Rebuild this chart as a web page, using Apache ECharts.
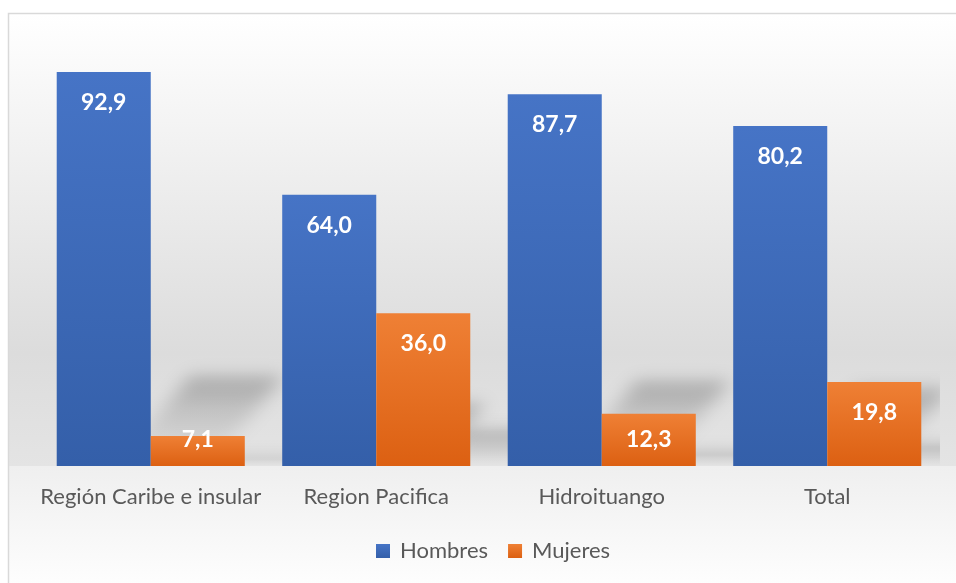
<!DOCTYPE html>
<html>
<head>
<meta charset="utf-8">
<script src="https://cdn.jsdelivr.net/npm/echarts@6/dist/echarts.min.js"></script>
<style>
  html, body { margin: 0; padding: 0; background: #fff; }
  #chart { width: 956px; height: 583px; }
</style>
</head>
<body>
<div id="chart"></div>
<script>
const categories = ['Región Caribe e insular', 'Region Pacifica', 'Hidroituango', 'Total'];
const hombres = [92.9, 64.0, 87.7, 80.2];
const mujeres = [7.1, 36.0, 12.3, 19.8];
const seriesNames = ['Hombres', 'Mujeres'];

let chart = echarts.init(document.getElementById('chart'));

const blue = new echarts.graphic.LinearGradient(0, 0, 0, 1, [
  { offset: 0, color: '#4674c6' },
  { offset: 1, color: '#345fa9' }
]);
const orange = new echarts.graphic.LinearGradient(0, 0, 0, 1, [
  { offset: 0, color: '#ef8035' },
  { offset: 1, color: '#dc6012' }
]);

const GAP = 0.166;

// label: inside the end, but pushed to the bottom on short bars
function labelled(values) {
  return values.map(v => ({
    value: v,
    label: v < 15 ? { position: 'insideBottom', distance: 15 } : { position: 'insideTop', distance: 19 }
  }));
}

// perspective shadows behind the bars
let shadowData = [];
[hombres, mujeres].forEach((arr, s) => {
  arr.forEach((v, i) => shadowData.push([i, v, s]));
});

function renderShadow(params, api) {
  const i = api.value(0), v = api.value(1), s = api.value(2);
  const base = api.coord([i, 0]);
  const top = api.coord([i, v]);
  const catW = api.size([1, 0])[0];
  const barW = catW * (1 - GAP) / 2;
  const x0 = base[0] - barW + s * barW + 0.62 * barW;
  const h = base[1] - top[1];
  const sl = 0.225 * h;
  const k = 0.85 * sl;
  const off = 3000;
  return {
    type: 'polygon',
    shape: {
      points: [
        [x0 - off, base[1]],
        [x0 + barW - off, base[1]],
        [x0 + barW + k - off, base[1] - sl],
        [x0 + k - off, base[1] - sl]
      ]
    },
    style: {
      fill: new echarts.graphic.LinearGradient(0, 0, 0, 1, [
        { offset: 0, color: 'rgba(0,0,0,1)' },
        { offset: 0.35, color: 'rgba(0,0,0,0.55)' },
        { offset: 1, color: 'rgba(0,0,0,0)' }
      ]),
      shadowColor: 'rgba(0,0,0,0.25)',
      shadowBlur: 18,
      shadowOffsetX: off
    }
  };
}

let option = {
  animation: false,
  graphic: [
    {
      type: 'rect', z: -10, silent: true,
      shape: { x: 9, y: 14, width: 960, height: 452 },
      style: {
        fill: new echarts.graphic.LinearGradient(0, 0, 0, 1, [
          { offset: 0, color: '#ffffff' },
          { offset: 0.75, color: '#dcdcdc' },
          { offset: 1, color: '#e4e4e4' }
        ])
      }
    },
    {
      type: 'rect', z: -10, silent: true,
      shape: { x: 9, y: 466, width: 960, height: 130 },
      style: {
        fill: new echarts.graphic.LinearGradient(0, 0, 0, 1, [
          { offset: 0, color: '#efefef' },
          { offset: 1, color: '#ffffff' }
        ])
      }
    },
    {
      type: 'rect', z: -9, silent: true,
      shape: { x: 8.5, y: 13.5, width: 970, height: 620 },
      style: { fill: 'none', stroke: '#d9d9d9', lineWidth: 1.5 }
    }
  ],
  grid: { left: 38, right: 16, top: 42, bottom: 117 },
  legend: {
    data: seriesNames,
    top: 535,
    left: 371,
    itemWidth: 14,
    itemHeight: 14,
    itemGap: 20,
    icon: 'rect',
    textStyle: { fontFamily: 'Lato', fontSize: 22, color: '#595959', padding: [0, 0, 0, 5] }
  },
  xAxis: {
    type: 'category',
    data: categories,
    axisLine: { show: false },
    axisTick: { show: false },
    axisLabel: { interval: 0, fontFamily: 'Lato', fontSize: 22, color: '#595959', margin: 20 }
  },
  yAxis: {
    type: 'value',
    min: 0,
    max: 100,
    show: false,
    splitLine: { show: false }
  },
  series: [
    {
      type: 'custom',
      name: 'shadow',
      silent: true,
      clip: true,
      z: 1,
      renderItem: renderShadow,
      data: shadowData
    },
    {
      name: seriesNames[0],
      type: 'bar',
      z: 2,
      barGap: '0%',
      barCategoryGap: (GAP * 100) + '%',
      itemStyle: { color: blue },
      label: {
        show: true,
        color: '#fff',
        fontFamily: 'Lato',
        fontWeight: 'bold',
        fontSize: 23,
        formatter: p => p.value.toFixed(1).replace('.', ',')
      },
      data: labelled(hombres)
    },
    {
      name: seriesNames[1],
      type: 'bar',
      z: 2,
      barGap: '0%',
      barCategoryGap: (GAP * 100) + '%',
      itemStyle: { color: orange },
      label: {
        show: true,
        color: '#fff',
        fontFamily: 'Lato',
        fontWeight: 'bold',
        fontSize: 23,
        formatter: p => p.value.toFixed(1).replace('.', ',')
      },
      data: labelled(mujeres)
    }
  ]
};

chart.setOption(option);
window.addEventListener('resize', function () {
  chart.resize();
});
</script>
</body>
</html>
